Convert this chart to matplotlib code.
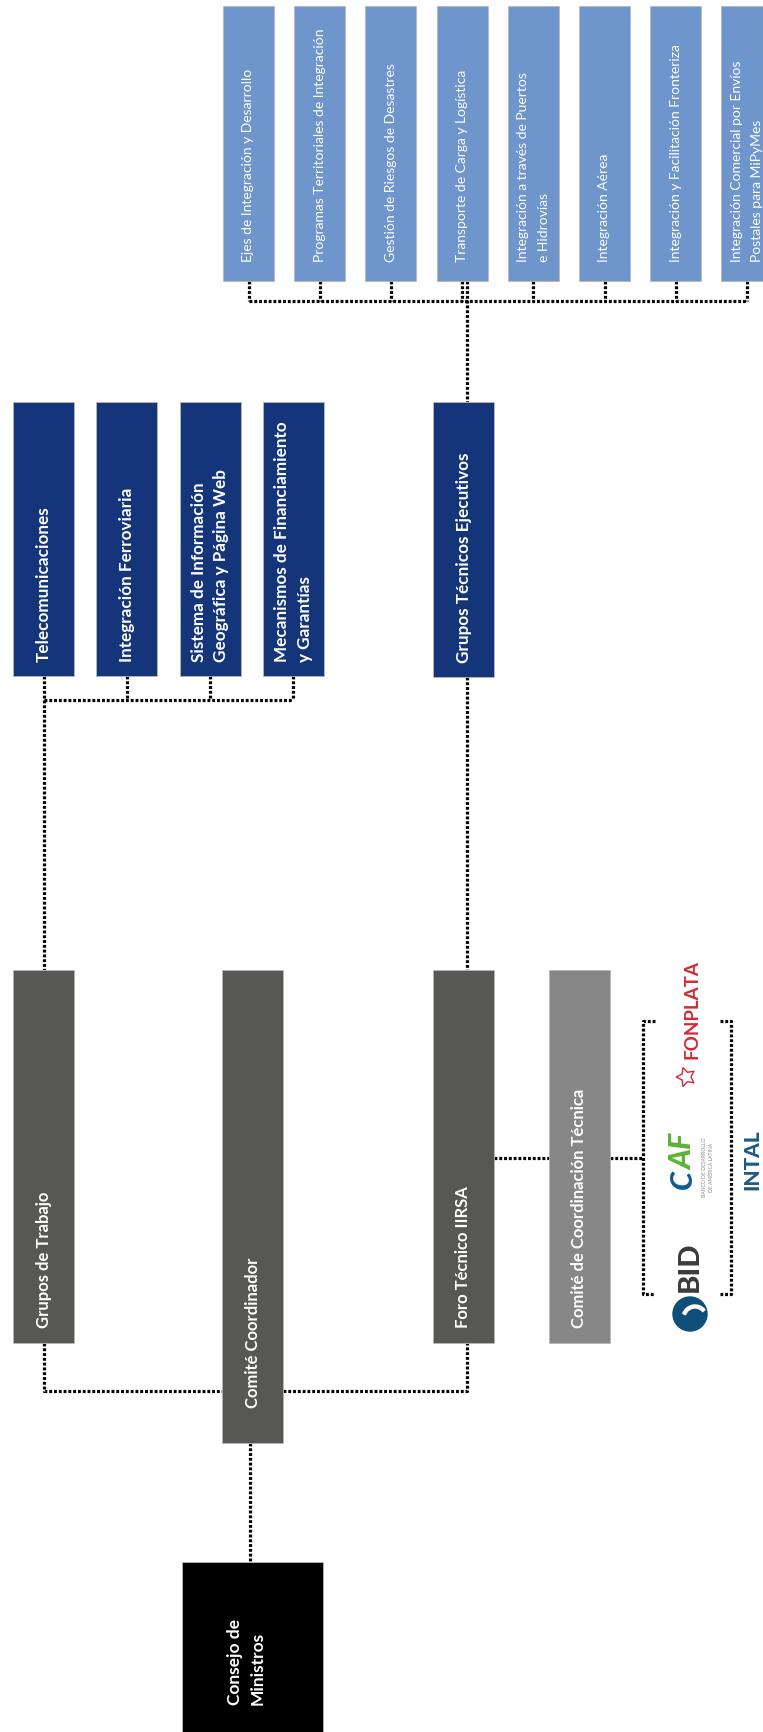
import matplotlib.pyplot as plt
from matplotlib.patches import Rectangle, Circle, Wedge

plt.rcParams['font.family'] = ['Lato', 'DejaVu Sans']

# Labels per niveau
ejecutivos = ['Ejes de Integración y Desarrollo',
              'Programas Territoriales de Integración',
              'Gestión de Riesgos de Desastres',
              'Transporte de Carga y Logística',
              'Integración a través de Puertos\ne Hidrovías',
              'Integración Aérea',
              'Integración y Facilitación Fronteriza',
              'Integración Comercial por Envíos\nPostales para MiPyMes']
trabajo = ['Telecomunicaciones',
           'Integración Ferroviaria',
           'Sistema de Información\nGeográfica y Página Web',
           'Mecanismos de Financiamiento\ny Garantías']
gte_label = 'Grupos Técnicos Ejecutivos'
grijs_labels = ['Grupos de Trabajo', 'Comité Coordinador', 'Foro Técnico IIRSA',
                'Comité de Coordinación Técnica']
consejo_label = 'Consejo de\nMinistros'
logos = ['BID', 'CAF', 'FONPLATA', 'INTAL']
caf_sub = 'BANCO DE DESARROLLO\nDE AMÉRICA LATINA'

# Kleuren
c_licht = '#6f95cd'
c_navy = '#14357a'
c_grijs = '#575756'
c_grijs2 = '#878787'
c_zwart = '#000000'

W, H = 763, 1733
fig = plt.figure(figsize=(W / 100, H / 100), dpi=100)
ax = fig.add_axes([0, 0, 1, 1])
ax.set_xlim(0, W)
ax.set_ylim(H, 0)
ax.axis('off')


def box(x0, x1, y0, y1, kleur, tekst, size, weight, pad, ls=1.5, tx=None):
    ax.add_patch(Rectangle((x0, y0), x1 - x0, y1 - y0, facecolor=kleur,
                           edgecolor='#b8b8b8', lw=0.6, zorder=2))
    if tx is None:
        tx = (x0 + x1) / 2
    ax.text(tx, y1 - pad, tekst, rotation=90, ha='center', va='bottom',
            multialignment='left', color='white', fontsize=size,
            fontweight=weight, linespacing=ls, zorder=3)


def stip(xs, ys):
    ax.plot(xs, ys, color='black', lw=2.3, ls=(0, (0.9, 0.6)),
            dash_capstyle='butt', zorder=1)


# Bovenste rij (grupos tecnicos ejecutivos)
top_x = [223 + 71.2 * i for i in range(len(ejecutivos))]
for x0, lab in zip(top_x, ejecutivos):
    box(x0, x0 + 51, 7, 282, c_licht, lab, 10, 'normal', 20, ls=1.85)
    stip([x0 + 25.5, x0 + 25.5], [282, 302])
stip([top_x[0] + 25.5, top_x[-1] + 25.5], [302, 302])

# Tweede rij
mid_x = [13 + 83.3 * i for i in range(len(trabajo))]
for x0, lab in zip(mid_x, trabajo):
    box(x0, x0 + 61, 403, 677, c_navy, lab, 12.3, 'bold', 15, ls=1.5)
    stip([x0 + 30.5, x0 + 30.5], [677, 701])
stip([mid_x[0] + 30.5, mid_x[-1] + 30.5], [701, 701])

box(433, 494, 403, 678, c_navy, gte_label, 12.3, 'bold', 15)
stip([467, 467], [282, 403])
stip([467, 467], [678, 971])

# Derde rij
stip([43.5, 43.5], [701, 971])
box(13, 74, 971, 1344, c_grijs, grijs_labels[0], 12, 'bold', 16)
box(222, 283, 971, 1444, c_grijs, grijs_labels[1], 12, 'bold', 36)
box(433, 494, 971, 1344, c_grijs, grijs_labels[2], 12, 'bold', 16)
box(549, 610, 971, 1344, c_grijs2, grijs_labels[3], 12, 'bold', 16)

stip([43.5, 43.5, 222], [1344, 1392, 1392])
stip([283, 467, 467], [1392, 1392, 1344])
stip([494, 549], [1159, 1159])
stip([610, 643], [1159, 1159])

# Haken om de banken
stip([655, 643, 643, 655], [1022, 1022, 1295, 1295])
stip([720, 731, 731, 720], [1022, 1022, 1295, 1295])

# Consejo de Ministros
stip([250, 250], [1444, 1563])
box(182, 323, 1563, 1745, c_zwart, consejo_label, 12.5, 'bold', 40, ls=1.5,
    tx=246)

# Logo's (benaderd met tekst)
ax.add_patch(Circle((690, 1315), 17, color='#0d4f78', zorder=2))
ax.add_patch(Wedge((695, 1319), 13, 200, 320, width=3, color='white', zorder=3))
ax.text(690, 1292, logos[0], rotation=90, ha='center', va='bottom',
        fontsize=21, fontweight='black', color='#3b3b3b')

ax.text(683, 1189, 'C', rotation=90, ha='center', va='bottom',
        fontsize=22, fontweight='black', color='#0f5a92', style='italic')
ax.text(683, 1170, 'AF', rotation=90, ha='center', va='bottom',
        fontsize=22, fontweight='black', color='#5cb335', style='italic')
ax.text(708, 1197, caf_sub, rotation=90, ha='center', va='bottom',
        fontsize=3.6, color='#8a8a8a', linespacing=1.2)

ax.text(692, 1059, logos[2], rotation=90, ha='center', va='bottom',
        fontsize=13.5, fontweight='bold', color='#d42a37')
ax.scatter([686], [1078], marker=(5, 1, 90), s=200, facecolors='none',
           edgecolors='#d42a37', linewidths=1.0, zorder=3)

ax.text(752, 1190, logos[3], rotation=90, ha='center', va='bottom',
        fontsize=15, fontweight='black', color='#1d5a80')

fig.savefig('out.png', dpi=100)
